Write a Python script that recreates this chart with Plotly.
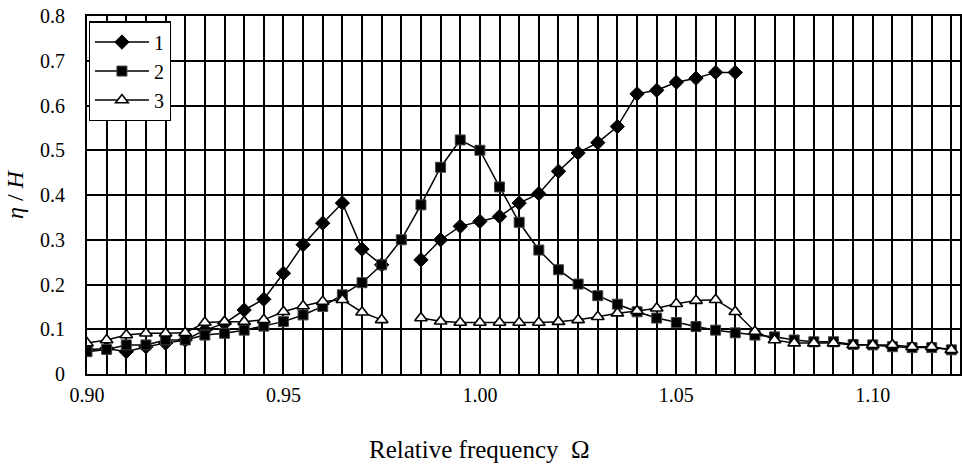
import plotly.graph_objects as go

freq = [0.900, 0.905, 0.910, 0.915, 0.920, 0.925, 0.930, 0.935, 0.940, 0.945,
        0.950, 0.955, 0.960, 0.965, 0.970, 0.975, 0.980, 0.985, 0.990, 0.995,
        1.000, 1.005, 1.010, 1.015, 1.020, 1.025, 1.030, 1.035, 1.040, 1.045,
        1.050, 1.055, 1.060, 1.065, 1.070, 1.075, 1.080, 1.085, 1.090, 1.095,
        1.100, 1.105, 1.110, 1.115, 1.120]

series1 = [0.054, 0.057, 0.050, 0.061, 0.069, 0.076, 0.098, 0.113, 0.143, 0.167,
           0.225, 0.289, 0.337, 0.382, 0.279, 0.244, None, 0.255, 0.300, 0.330,
           0.341, 0.352, 0.382, 0.403, 0.453, 0.494, 0.517, 0.553, 0.626, 0.634,
           0.652, 0.661, 0.674, 0.674, None, None, None, None, None, None,
           None, None, None, None, None]

series2 = [0.050, 0.055, 0.065, 0.065, 0.076, 0.076, 0.087, 0.091, 0.098, 0.107,
           0.117, 0.132, 0.151, 0.177, 0.204, 0.244, 0.300, 0.378, 0.462, 0.523,
           0.500, 0.418, 0.339, 0.277, 0.233, 0.201, 0.175, 0.156, 0.139, 0.125,
           0.115, 0.106, 0.098, 0.092, 0.087, 0.083, 0.076, 0.072, 0.072, 0.066,
           0.065, 0.061, 0.059, 0.059, 0.054]

series3 = [0.069, 0.076, 0.087, 0.091, 0.091, 0.092, 0.115, 0.117, 0.117, 0.121,
           0.139, 0.152, 0.162, 0.166, 0.138, 0.121, None, 0.125, 0.118, 0.115,
           0.115, 0.115, 0.115, 0.115, 0.117, 0.121, 0.128, 0.136, 0.141, 0.147,
           0.157, 0.164, 0.166, 0.139, 0.095, 0.076, 0.069, 0.069, 0.069, 0.065,
           0.065, 0.065, 0.061, 0.061, 0.054]

names = ["1", "2", "3"]
x_title = "Relative frequency  Ω"
y_title = "<i>η</i> / <i>H</i>"
FONT = "Liberation Serif, Times New Roman, serif"

fig = go.Figure()
fig.add_trace(go.Scatter(
    x=freq, y=series1, name=names[0], mode="lines+markers",
    line=dict(color="black", width=1.5),
    marker=dict(symbol="diamond", size=11, color="black",
                line=dict(color="black", width=1))))
fig.add_trace(go.Scatter(
    x=freq, y=series2, name=names[1], mode="lines+markers",
    line=dict(color="black", width=1.5),
    marker=dict(symbol="square", size=10, color="black",
                line=dict(color="#444", width=1))))
fig.add_trace(go.Scatter(
    x=freq, y=series3, name=names[2], mode="lines+markers",
    line=dict(color="black", width=1.5),
    marker=dict(symbol="triangle-up", size=11, color="white",
                line=dict(color="black", width=1.6))))

fig.update_layout(
    width=962, height=466,
    margin=dict(l=87, r=0, t=16, b=92),
    paper_bgcolor="white", plot_bgcolor="white",
    font=dict(family=FONT, size=20, color="black"),
    showlegend=True,
    legend=dict(x=0.002, y=0.985, xanchor="left", yanchor="top",
                bgcolor="white", bordercolor="black", borderwidth=1.2,
                font=dict(family=FONT, size=20, color="black"),
                itemwidth=54, tracegroupgap=0),
    annotations=[dict(
        text=x_title, xref="paper", yref="paper",
        x=(480 - 87) / 875, y=-(449 - 374) / 358,
        xanchor="center", yanchor="middle", showarrow=False,
        font=dict(family=FONT, size=25, color="black"))],
)

fig.update_xaxes(
    range=[0.9, 1.1222], dtick=0.05, tick0=0.9, tickformat=".2f",
    showgrid=True, gridcolor="black", gridwidth=1.6,
    minor=dict(dtick=0.005, tick0=0.9, showgrid=True, gridcolor="black", gridwidth=1.6),
    showline=True, linecolor="black", linewidth=2, mirror=True,
    ticks="", ticklabelstandoff=2, zeroline=False,
    tickfont=dict(family=FONT, size=20),
)
fig.update_yaxes(
    range=[0, 0.8], dtick=0.1, tick0=0,
    showgrid=True, gridcolor="black", gridwidth=1.6,
    showline=True, linecolor="black", linewidth=2, mirror=True,
    ticks="", ticklabelstandoff=16, zeroline=False,
    tickfont=dict(family=FONT, size=20),
    title=dict(text=y_title, font=dict(family=FONT, size=24), standoff=10),
)

fig.write_html("out.html")
